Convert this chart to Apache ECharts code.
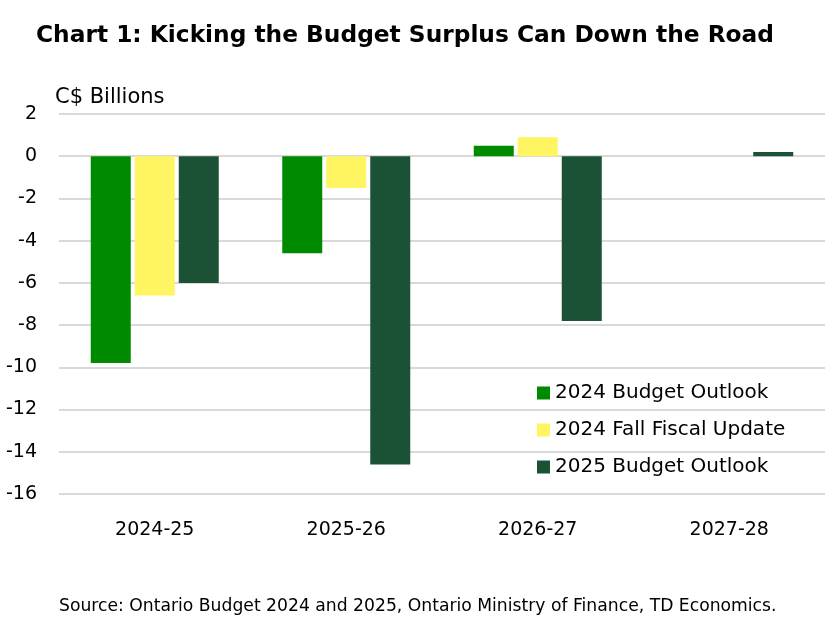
<!DOCTYPE html>
<html>
<head>
<meta charset="utf-8">
<script src="https://cdn.jsdelivr.net/npm/echarts@6/dist/echarts.min.js"></script>
<style>
html, body { margin: 0; padding: 0; background: #fff; }
#chart { width: 827px; height: 617px; }
</style>
</head>
<body>
<div id="chart"></div>
<script>
// 财政年度
var years = ['2024-25', '2025-26', '2026-27', '2027-28'];
// 各版本预算 (C$ 十亿)
var budget2024 = [-9.8, -4.6, 0.5, null];
var fallUpdate2024 = [-6.6, -1.5, 0.9, null];
var budget2025 = [-6.0, -14.6, -7.8, 0.2];

var FONT = '"DejaVu Sans", sans-serif';
var colors = ['#008a00', '#fff563', '#1b5236'];

var chart = echarts.init(document.getElementById('chart'));
chart.setOption({
	animation: false,
	color: colors,
	title: [{
		text: 'Chart 1: Kicking the Budget Surplus Can Down the Road',
		left: 31,
		top: 19,
		textStyle: { fontFamily: FONT, fontSize: 23.3, fontWeight: 'bold', color: '#000' }
	}, {
		text: 'C$ Billions',
		left: 50,
		top: 82,
		textStyle: { fontFamily: FONT, fontSize: 21, fontWeight: 'normal', color: '#000' }
	}, {
		text: 'Source: Ontario Budget 2024 and 2025, Ontario Ministry of Finance, TD Economics.',
		left: 54,
		top: 593,
		textStyle: { fontFamily: FONT, fontSize: 17.2, fontWeight: 'normal', color: '#000' }
	}],
	legend: {
		orient: 'vertical',
		left: 532,
		top: 378,
		itemWidth: 13,
		itemHeight: 13,
		itemGap: 17,
		icon: 'rect',
		textStyle: { fontFamily: FONT, fontSize: 20, color: '#000', lineHeight: 20 },
		data: ['2024 Budget Outlook', '2024 Fall Fiscal Update', '2025 Budget Outlook']
	},
	grid: { left: 59, right: 2, top: 114, bottom: 123, containLabel: false },
	xAxis: {
		type: 'category',
		data: years,
		axisLine: { show: false },
		axisTick: { show: false },
		axisLabel: { fontFamily: FONT, fontSize: 19, color: '#000', margin: 27 }
	},
	yAxis: {
		type: 'value',
		min: -16,
		max: 2,
		interval: 2,
		axisLine: { show: false },
		axisTick: { show: false },
		axisLabel: { fontFamily: FONT, fontSize: 19, color: '#000', margin: 22 },
		splitLine: { lineStyle: { color: '#d9d9d9', width: 2 } }
	},
	series: [{
		name: '2024 Budget Outlook',
		type: 'bar',
		data: budget2024,
		barWidth: 40,
		barGap: '10%'
	}, {
		name: '2024 Fall Fiscal Update',
		type: 'bar',
		data: fallUpdate2024,
		barWidth: 40,
		barGap: '10%'
	}, {
		name: '2025 Budget Outlook',
		type: 'bar',
		data: budget2025,
		barWidth: 40,
		barGap: '10%'
	}]
});
</script>
</body>
</html>
